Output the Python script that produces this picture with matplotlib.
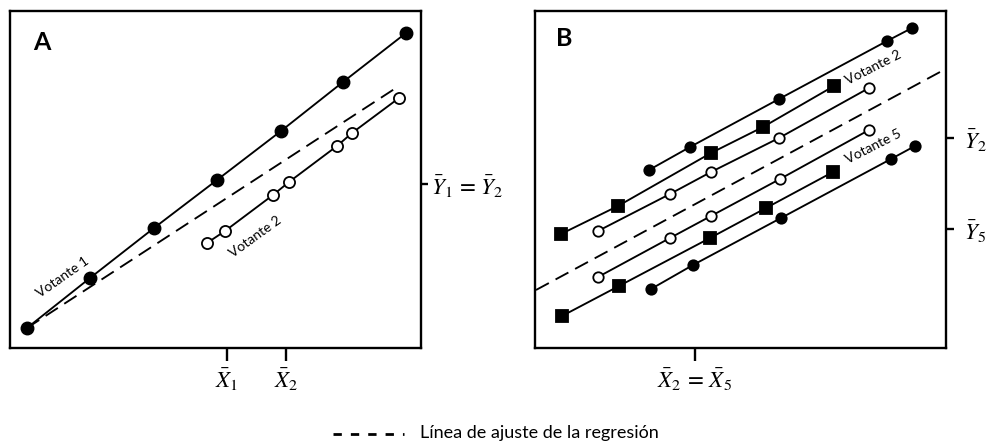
import matplotlib
matplotlib.use("Agg")
import matplotlib.pyplot as plt

plt.rcParams['font.family'] = ['Lato', 'DejaVu Sans']
plt.rcParams['mathtext.fontset'] = 'stix'
plt.rcParams['lines.scale_dashes'] = False

# ---------------- Data (arbitrary units) ----------------
# Panel A
a_v1_x = [27, 90, 154, 217, 281, 343, 406]
a_v1_y = [116, 166, 216, 264, 313, 362, 411]
a_v2_x = [207, 225, 273, 289, 337, 352, 399]
a_v2_y = [201, 213, 249, 262, 298, 311, 346]
a_fit_x = [27, 399]
a_fit_y = [116, 358]
a_xticks = [227, 286]
a_xticklabels = [r'$\bar{X}_1$', r'$\bar{X}_2$']
a_yticks = [260]
a_yticklabels = [r'$\bar{Y}_1\,=\,\bar{Y}_2$']

# Panel B
b_top_fill_x = [649, 690, 779, 887, 912]
b_top_fill_y = [274, 297, 345, 403, 416]
b_sq_up_x = [561, 618, 711, 763, 834]
b_sq_up_y = [210, 238, 291, 317, 358]
b_open_up_x = [598, 670, 711, 779, 869]
b_open_up_y = [213, 250, 272, 306, 356]
b_fit_x = [536, 940]
b_fit_y = [154, 372]
b_open_lo_x = [598, 670, 711, 780, 869]
b_open_lo_y = [167, 206, 228, 265, 314]
b_sq_lo_x = [562, 619, 710, 766, 833]
b_sq_lo_y = [128, 158, 206, 236, 272]
b_bot_fill_x = [651, 693, 781, 891, 915]
b_bot_fill_y = [155, 179, 226, 285, 298]
b_xticks = [695]
b_xticklabels = [r'$\bar{X}_2\,=\,\bar{X}_5$']
b_yticks = [306, 215]
b_yticklabels = [r'$\bar{Y}_2$', r'$\bar{Y}_5$']

legend_label = 'Línea de ajuste de la regresión'

# ---------------- Figure ----------------
W, H = 987, 444
fig = plt.figure(figsize=(W / 100, H / 100), dpi=100)

def add_panel(left, right, bottom, top):
    ax = fig.add_axes([left / W, (H - bottom) / H, (right - left) / W, (bottom - top) / H])
    ax.set_xlim(left, right)
    ax.set_ylim(H - bottom, H - top)
    for s in ax.spines.values():
        s.set_linewidth(1.7)
    return ax

lw = 1.35
dash = (0, (10.5, 5.5))
MFS = 16.5  # math label font size

# Panel A
axA = add_panel(10, 421, 348, 11)
axA.plot(a_fit_x, a_fit_y, color='black', lw=lw, linestyle=dash, zorder=1)
axA.plot(a_v1_x, a_v1_y, color='black', lw=lw, marker='o', ms=9,
         mfc='black', mec='black', zorder=3)
axA.plot(a_v2_x, a_v2_y, color='black', lw=lw, marker='o', ms=8,
         mfc='white', mec='black', mew=1.3, zorder=3)
axA.set_xticks(a_xticks)
axA.set_xticklabels(a_xticklabels, fontsize=MFS)
axA.yaxis.tick_right()
axA.set_yticks(a_yticks)
axA.set_yticklabels(a_yticklabels, fontsize=MFS)
axA.tick_params(axis='x', direction='out', length=9, width=1.7, pad=5)
axA.tick_params(axis='y', direction='out', length=5, width=1.7, pad=2)
axA.text(42, H - 43, 'A', fontsize=18, fontweight='bold', ha='center', va='center')
axA.text(63, H - 277, 'Votante 1', fontsize=10, rotation=35,
         ha='center', va='center', rotation_mode='anchor')
axA.text(255, H - 237, 'Votante 2', fontsize=10, rotation=36,
         ha='center', va='center', rotation_mode='anchor')

# Panel B
axB = add_panel(535, 946, 348, 11)
axB.plot(b_fit_x, b_fit_y, color='black', lw=lw, linestyle=dash, zorder=1)
for xs, ys, mk, mfc, ms in [
    (b_top_fill_x, b_top_fill_y, 'o', 'black', 7.5),
    (b_sq_up_x, b_sq_up_y, 's', 'black', 8.5),
    (b_open_up_x, b_open_up_y, 'o', 'white', 7.5),
    (b_open_lo_x, b_open_lo_y, 'o', 'white', 7.5),
    (b_sq_lo_x, b_sq_lo_y, 's', 'black', 8.5),
    (b_bot_fill_x, b_bot_fill_y, 'o', 'black', 7.5),
]:
    axB.plot(xs, ys, color='black', lw=lw, marker=mk, ms=ms,
             mfc=mfc, mec='black', mew=1.3, zorder=3)
axB.set_xticks(b_xticks)
axB.set_xticklabels(b_xticklabels, fontsize=MFS)
axB.yaxis.tick_right()
axB.set_yticks(b_yticks)
axB.set_yticklabels(b_yticklabels, fontsize=MFS)
axB.tick_params(axis='x', direction='out', length=9, width=1.7, pad=5)
axB.tick_params(axis='y', direction='out', length=6, width=1.7, pad=7)
axB.text(564, H - 39, 'B', fontsize=18, fontweight='bold', ha='center', va='center')
axB.text(873, H - 68, 'Votante 2', fontsize=10, rotation=27,
         ha='center', va='center', rotation_mode='anchor')
axB.text(873, H - 147, 'Votante 5', fontsize=10, rotation=27,
         ha='center', va='center', rotation_mode='anchor')

# Legend (overlay axes in figure pixel units)
axL = fig.add_axes([0, 0, 1, 1])
axL.set_xlim(0, W)
axL.set_ylim(H, 0)
axL.axis('off')
axL.plot([333, 404], [434, 434], color='black', lw=2, linestyle=(0, (6, 6.5)))
axL.text(420, 433, legend_label, fontsize=13, ha='left', va='center')

fig.savefig('out.png', dpi=100)
